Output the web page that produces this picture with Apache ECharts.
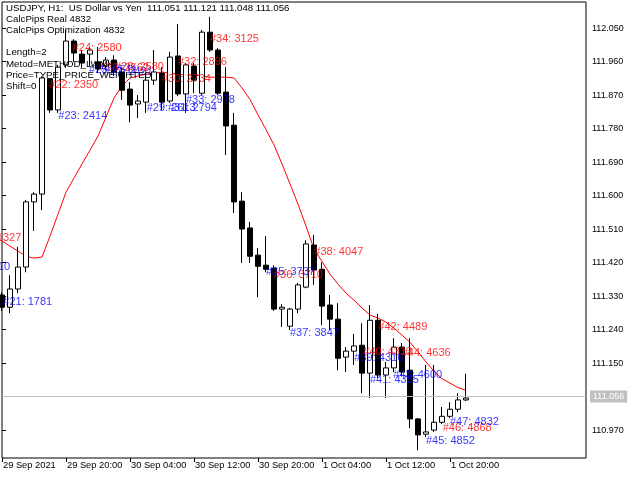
<!DOCTYPE html>
<html>
<head>
<meta charset="utf-8">
<script src="https://cdn.jsdelivr.net/npm/echarts@6/dist/echarts.min.js"></script>
<style>
html,body{margin:0;padding:0;background:#fff;}
#chart{width:640px;height:480px;}
</style>
</head>
<body>
<div id="chart"></div>
<script>
// ---- data ----
const tickLabels = ["29 Sep 2021","29 Sep 20:00","30 Sep 04:00","30 Sep 12:00","30 Sep 20:00","1 Oct 04:00","1 Oct 12:00","1 Oct 20:00"];
const tickIndex = [0,8,16,24,32,40,48,56];
const priceTicks = [110.97,111.15,111.24,111.33,111.42,111.51,111.60,111.69,111.78,111.87,111.96,112.05];
const lastPrice = 111.056;

const opens  = [111.333,111.300,111.349,111.408,111.583,111.604,111.914,111.830,111.951,112.015,
                111.980,111.980,111.959,111.948,111.964,111.932,111.886,111.846,111.851,111.910,
                111.929,111.854,111.975,111.873,111.948,111.875,112.039,111.991,111.878,111.789,
                111.585,111.513,111.440,111.413,111.405,111.295,111.249,111.295,111.354,111.467,
                111.402,111.306,111.268,111.166,111.182,111.198,111.123,111.265,111.118,111.137,
                111.193,111.131,111.000,110.959,110.970,110.991,111.007,111.026,111.051];
const closes = [111.300,111.349,111.408,111.583,111.604,111.916,111.830,111.945,112.015,111.983,
                111.956,111.991,111.940,111.964,111.932,111.883,111.843,111.854,111.910,111.932,
                111.851,111.972,111.873,111.951,111.910,112.039,111.991,111.875,111.787,111.583,
                111.510,111.437,111.410,111.402,111.295,111.300,111.295,111.360,111.470,111.400,
                111.303,111.268,111.163,111.182,111.196,111.123,111.265,111.118,111.137,111.193,
                111.126,111.000,110.957,110.965,110.991,111.007,111.026,111.051,111.056];
const lows   = [111.290,111.284,111.338,111.394,111.505,111.561,111.822,111.822,111.943,111.959,
                111.943,111.948,111.929,111.937,111.921,111.857,111.797,111.808,111.822,111.897,
                111.830,111.849,111.867,111.822,111.875,111.870,111.986,111.870,111.709,111.553,
                111.419,111.419,111.327,111.394,111.290,111.247,111.239,111.284,111.351,111.360,
                111.252,111.239,111.131,111.126,111.145,111.069,111.056,111.110,111.056,111.126,
                111.118,110.975,110.916,110.951,110.965,110.986,111.002,111.018,111.048];
const highs  = [111.340,111.386,111.462,111.588,111.609,111.920,111.916,111.951,112.045,112.020,
                111.991,111.999,111.999,111.972,111.977,111.943,111.905,111.870,111.929,111.991,
                111.945,111.986,112.061,111.956,111.956,112.045,112.080,111.996,111.945,111.822,
                111.609,111.529,111.459,111.491,111.413,111.308,111.298,111.365,111.480,111.494,
                111.421,111.333,111.311,111.193,111.228,111.257,111.306,111.282,111.153,111.217,
                111.204,111.217,111.002,111.145,111.145,111.032,111.045,111.069,111.121];
const maValues = [111.478,111.464,111.451,111.437,111.432,111.435,111.491,111.550,111.609,111.647,
                  111.685,111.722,111.760,111.811,111.862,111.894,111.916,111.921,111.926,111.929,
                  111.932,111.929,111.926,111.924,111.924,111.921,111.918,111.918,111.918,111.916,
                  111.889,111.858,111.817,111.777,111.736,111.685,111.631,111.577,111.518,111.456,
                  111.423,111.389,111.362,111.338,111.319,111.298,111.279,111.271,111.260,111.244,
                  111.225,111.206,111.180,111.153,111.128,111.108,111.096,111.084,111.077];

const redNotes = [
  [-3.7, 111.487, "#20: 1327"],
  [5.91, 111.897, "#22: 2350"],
  [8.84, 111.996, "#24: 2580"],
  [12.25, 111.943, "#26: 2562"],
  [14.12, 111.945, "#28: 2580"],
  [20.0, 111.913, "#30: 2734"],
  [22.0, 111.959, "#32: 2896"],
  [26.0, 112.020, "#34: 3125"],
  [34.0, 111.386, "#36: 3710"],
  [39.04, 111.449, "#38: 4047"],
  [45.16, 111.180, "#40: 4313"],
  [47.04, 111.247, "#42: 4489"],
  [49.96, 111.176, "#44: 4636"],
  [55.09, 110.976, "#46: 4868"]
];
const blueNotes = [
  [-5.1, 111.408, "#19: 1510"],
  [0.16, 111.315, "#21: 1781"],
  [7.04, 111.814, "#23: 2414"],
  [10.88, 111.937, "#25: 2511"],
  [12.75, 111.932, "#27: 2491"],
  [18.09, 111.835, "#29: 2613"],
  [20.75, 111.835, "#31: 2794"],
  [23.0, 111.857, "#33: 2978"],
  [33.0, 111.395, "#35: 3737"],
  [36.0, 111.231, "#37: 3847"],
  [44.04, 111.163, "#39: 4316"],
  [46.0, 111.104, "#41: 4365"],
  [48.91, 111.118, "#43: 4600"],
  [53.0, 110.940, "#45: 4852"],
  [56.0, 110.992, "#47: 4832"]
];

const headerLines = [
  "USDJPY, H1:  US Dollar vs Yen  111.051 111.121 111.048 111.056",
  "CalcPips Real 4832",
  "CalcPips Optimization 4832",
  "",
  "Length=2",
  "Metod=METHOD_LWMA",
  "Price=TYPE_PRICE_WEIGHTED",
  "Shift=0"
];

// ---- build ----
const FONT = "Liberation Sans, Arial, sans-serif";
const candleData = opens.map((o, i) => [i, o, closes[i], lows[i], highs[i]]);
const maData = maValues.map((v, i) => [i, v]);
const toNotes = arr => arr.map(n => ({ value: [n[0], n[1]], name: n[2] }));

const chart = echarts.init(document.getElementById('chart'), null, { renderer: 'canvas' });
chart.setOption({
  animation: false,
  backgroundColor: '#ffffff',
  grid: { left: 2, right: 54, top: 2, bottom: 22, show: true, borderColor: '#000', borderWidth: 1, backgroundColor: 'transparent' },
  xAxis: {
    type: 'value', min: 0, max: 73,
    axisLine: { show: false },
    splitLine: { show: false },
    axisTick: { show: true, length: 4, lineStyle: { color: '#000' }, customValues: tickIndex },
    axisLabel: {
      customValues: tickIndex,
      formatter: v => { const k = tickIndex.indexOf(Math.round(v)); return k >= 0 ? tickLabels[k] : ''; },
      align: 'left', margin: 3, padding: [0, 0, 0, 1],
      color: '#000', fontFamily: FONT, fontSize: 9.3
    }
  },
  yAxis: {
    type: 'value', position: 'right', min: 110.895, max: 112.12, scale: true,
    axisLine: { show: false },
    splitLine: { show: false },
    axisTick: { show: true, length: 4, lineStyle: { color: '#000' }, customValues: priceTicks },
    axisLabel: {
      customValues: priceTicks,
      formatter: v => v.toFixed(3),
      margin: 6, color: '#000', fontFamily: FONT, fontSize: 9
    }
  },
  graphic: headerLines.map((t, i) => ({
    type: 'text', left: 6, top: 3 + i * 11.2, z: 100,
    style: { text: t, fill: '#000', font: '9.7px ' + FONT }
  })),
  series: [
    {
      type: 'line', data: maData, symbol: 'none', z: 2,
      lineStyle: { color: '#ff0000', width: 1 }
    },
    {
      type: 'candlestick', data: candleData, barWidth: 5, z: 3, clip: true,
      encode: { x: 0, y: [1, 2, 3, 4] },
      itemStyle: { color: '#ffffff', borderColor: '#000', color0: '#000000', borderColor0: '#000', borderWidth: 1 },
      markLine: {
        silent: true, symbol: 'none', animation: false,
        lineStyle: { color: '#c0c0c0', type: 'solid', width: 1 },
        label: {
          position: 'end', formatter: lastPrice.toFixed(3), color: '#fff',
          backgroundColor: '#c0c0c0', padding: [2, 3, 1, 3], distance: 4,
          fontFamily: FONT, fontSize: 9
        },
        data: [{ yAxis: lastPrice }]
      }
    },
    {
      type: 'scatter', data: toNotes(redNotes), symbolSize: 0, clip: false, z: 10, silent: true,
      label: { show: true, position: 'right', distance: 0, formatter: '{b}', color: '#ff0000', fontFamily: FONT, fontSize: 11 }
    },
    {
      type: 'scatter', data: toNotes(blueNotes), symbolSize: 0, clip: false, z: 10, silent: true,
      label: { show: true, position: 'right', distance: 0, formatter: '{b}', color: '#0000ff', fontFamily: FONT, fontSize: 11 }
    }
  ]
});
</script>
</body>
</html>
